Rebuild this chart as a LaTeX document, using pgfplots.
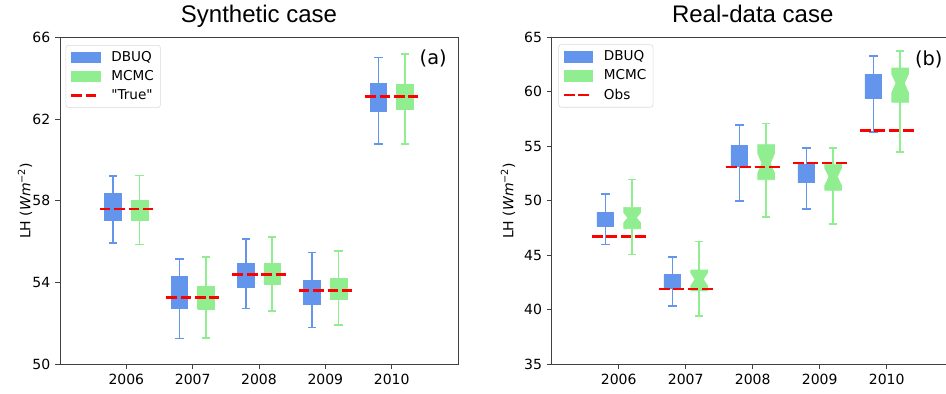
\documentclass[border=0pt]{standalone}
\usepackage{fontspec}
\setmainfont{DejaVu Sans}
\newfontfamily\titlefont{Liberation Sans}
\usepackage{pgfplots}
\pgfplotsset{compat=1.18}
\definecolor{dbuq}{HTML}{6495ED}
\definecolor{mcmc}{HTML}{90EE90}
\pgfplotsset{
  common/.style={
    scale only axis, height=245.25pt,
    xmin=0, xmax=6, xtick={1,2,3,4,5},
    xticklabels={2006,2007,2008,2009,2010},
    tick pos=left, tick align=outside, major tick length=3.75pt,
    axis line style={black!75, line width=0.7pt},
    every tick/.style={black!75, line width=0.7pt},
    tick label style={font=\fontsize{10.5}{12}\selectfont},
    /pgf/number format/assume math mode=true,
    every axis title/.style={at={(0.5,1)}, anchor=base, yshift=10.95pt,
      font=\titlefont\fontsize{18}{20}\selectfont},
    legend cell align=left,
    legend style={anchor=north west, font=\fontsize{10.2}{12}\selectfont,
      draw=black!15, rounded corners=2pt, fill=white, row sep=1.3pt,
      inner xsep=3pt, inner ysep=2.5pt,
      /tikz/every odd column/.append style={column sep=5.5pt}},
  },
  refline/.style={forget plot, red, line width=2pt, dash pattern=on 8pt off 2.8pt, unbounded coords=jump},
}
% whiskers and caps of one box: #1 colour, #2 position, #3 lower whisker, #4 lower quartile, #5 upper quartile, #6 upper whisker
\newcommand\whisk[6]{%
  \pgfmathsetmacro\ca{#2-0.0625}\pgfmathsetmacro\cb{#2+0.0625}%
  \edef\tmp{\noexpand\addplot[draw=#1, line width=1.2pt, unbounded coords=jump, forget plot]
    coordinates {(#2,#4) (#2,#3) (#2,nan) (\ca,#3) (\cb,#3) (\cb,nan) (#2,#5) (#2,#6) (#2,nan) (\ca,#6) (\cb,#6)};}\tmp}
% plain box
\newcommand\bx[6]{%
  \whisk{#1}{#2}{#3}{#4}{#5}{#6}%
  \pgfmathsetmacro\xa{#2-0.125}\pgfmathsetmacro\xb{#2+0.125}%
  \edef\tmp{\noexpand\addplot[fill=#1, draw=#1, line width=0.5pt, forget plot]
    coordinates {(\xa,#4) (\xb,#4) (\xb,#5) (\xa,#5) (\xa,#4)};}\tmp}
% notched box: #1 colour, #2 pos, #3 lw, #4 lq, #5 median, #6 uq, #7 uw, #8 notch half height
\newcommand\nbx[8]{%
  \whisk{#1}{#2}{#3}{#4}{#6}{#7}%
  \pgfmathsetmacro\xa{#2-0.125}\pgfmathsetmacro\xb{#2+0.125}%
  \pgfmathsetmacro\wa{#2-0.0625}\pgfmathsetmacro\wb{#2+0.0625}%
  \pgfmathsetmacro\nlo{#5-#8}\pgfmathsetmacro\nhi{#5+#8}%
  \edef\tmp{\noexpand\addplot[fill=#1, draw=#1, line width=0.5pt, forget plot]
    coordinates {(\xa,#4) (\xa,\nlo) (\wa,#5) (\xa,\nhi) (\xa,#6) (\xb,#6) (\xb,\nhi) (\wb,#5) (\xb,\nlo) (\xb,#4) (\xa,#4)};}\tmp}
\newcommand{\patchimg}[1]{\addlegendimage{legend image code/.code={\fill[#1, sharp corners] (0pt,-3.9pt) rectangle (21.5pt,3.9pt);}}}
\newcommand{\dashimg}{\addlegendimage{legend image code/.code={\draw[red, sharp corners, line width=2pt, dash pattern=on 8pt off 2.8pt] (0pt,0pt) -- (21.5pt,0pt);}}}
\begin{document}
\begin{tikzpicture}
\begin{axis}[common, at={(0pt,0pt)}, anchor=south west, width=298.5pt,
  ymin=50, ymax=66, ytick={50,54,58,62,66},
  title={Synthetic case},
  ylabel={LH (\textit{Wm}\textsuperscript{−2})},
  every axis y label/.style={at={(rel axis cs:-0.088,0.5)}, rotate=90, anchor=center, font=\fontsize{10.5}{12}\selectfont},
  legend style={at={(rel axis cs:0.0143,0.9765)}},
]
\patchimg{dbuq}\addlegendentry{DBUQ}
\patchimg{mcmc}\addlegendentry{MCMC}
\dashimg\addlegendentry{\textquotedbl True\textquotedbl}
% DBUQ: pos, lower whisker, lower quartile, upper quartile, upper whisker
\bx{dbuq}{0.8}{55.94}{57.03}{58.37}{59.21}
\bx{dbuq}{1.8}{51.26}{52.73}{54.31}{55.16}
\bx{dbuq}{2.8}{52.74}{53.79}{54.93}{56.12}
\bx{dbuq}{3.8}{51.81}{52.92}{54.11}{55.47}
\bx{dbuq}{4.8}{60.78}{62.36}{63.73}{65.01}
% MCMC
\bx{mcmc}{1.2}{55.86}{57.06}{58.03}{59.23}
\bx{mcmc}{2.2}{51.29}{52.69}{53.80}{55.26}
\bx{mcmc}{3.2}{52.60}{53.93}{54.95}{56.23}
\bx{mcmc}{4.2}{51.91}{53.17}{54.21}{55.55}
\bx{mcmc}{5.2}{60.78}{62.46}{63.69}{65.17}
% "True"
\addplot[refline] coordinates {(0.6,57.60) (1.4,57.60) (1.5,nan) (1.6,53.26) (2.4,53.26) (2.5,nan) (2.6,54.41) (3.4,54.41) (3.5,nan) (3.6,53.62) (4.4,53.62) (4.5,nan) (4.6,63.11) (5.4,63.11)};
\node[anchor=north east, inner sep=0pt, font=\fontsize{14.5}{16}\selectfont] at (rel axis cs:1,1) [xshift=-8.3pt, yshift=-9.2pt] {(a)};
\end{axis}
\begin{axis}[common, at={(368.8pt,0pt)}, anchor=south west, width=301.5pt,
  ymin=35, ymax=65, ytick={35,40,45,50,55,60,65},
  title={Real-data case},
  ylabel={LH (\textit{Wm}\textsuperscript{−2})},
  every axis y label/.style={at={(rel axis cs:-0.1088,0.5)}, rotate=90, anchor=center, font=\fontsize{10.5}{12}\selectfont},
  legend style={at={(rel axis cs:0.0164,0.9786)}},
]
\patchimg{dbuq}\addlegendentry{DBUQ}
\patchimg{mcmc}\addlegendentry{MCMC}
\dashimg\addlegendentry{Obs}
% DBUQ
\bx{dbuq}{0.8}{46.01}{47.69}{48.97}{50.62}
\bx{dbuq}{1.8}{40.35}{41.97}{43.22}{44.87}
\bx{dbuq}{2.8}{49.98}{53.13}{55.09}{56.95}
\bx{dbuq}{3.8}{49.25}{51.66}{53.38}{54.87}
\bx{dbuq}{4.8}{56.34}{59.43}{61.61}{63.31}
% MCMC (notched): pos, lw, lq, median, uq, uw, notch
\nbx{mcmc}{1.2}{45.09}{47.44}{48.45}{49.40}{51.97}{0.45}
\nbx{mcmc}{2.2}{39.43}{41.75}{42.80}{43.65}{46.28}{0.6}
\nbx{mcmc}{3.2}{48.54}{51.94}{53.44}{55.15}{57.11}{0.9}
\nbx{mcmc}{4.2}{47.87}{50.96}{52.21}{53.35}{54.87}{0.8}
\nbx{mcmc}{5.2}{54.50}{59.04}{60.78}{62.18}{63.77}{0.85}
% Obs
\addplot[refline] coordinates {(0.6,46.71) (1.4,46.71) (1.5,nan) (1.6,41.91) (2.4,41.91) (2.5,nan) (2.6,53.10) (3.4,53.10) (3.5,nan) (3.6,53.47) (4.4,53.47) (4.5,nan) (4.6,56.47) (5.4,56.47)};
\node[anchor=north east, inner sep=0pt, font=\fontsize{14.5}{16}\selectfont] at (rel axis cs:1,1) [xshift=-8.3pt, yshift=-10pt] {(b)};
\end{axis}
\pgfresetboundingbox
\path (-45pt,-21.5pt) rectangle (664.5pt,273.25pt);
\end{tikzpicture}
\end{document}
